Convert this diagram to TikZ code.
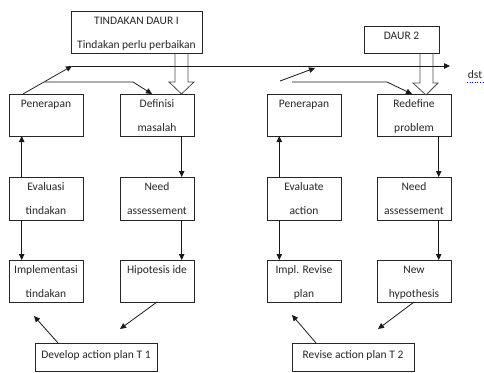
\documentclass[tikz,border=0pt]{standalone}
\usepackage{fontspec}
\setmainfont{Carlito}
\usetikzlibrary{arrows.meta,calc}
\begin{document}
\begin{tikzpicture}[x=1pt,y=-1pt,
  box/.style={draw=black!85, line width=0.8pt, minimum width=74pt, minimum height=42pt, inner sep=0pt, outer sep=0pt},
  txt/.style={anchor=base, inner sep=0pt, font=\fontsize{11.5}{13}\selectfont, text=black!85},
  arr/.style={draw=black!90, line width=0.8pt, -{Triangle[length=6pt,width=5.5pt]}},
  ln/.style={draw=black!90, line width=0.8pt},
  hollow/.style={draw=black!70, line width=0.8pt}]
\useasboundingbox (0,0) rectangle (484,372);

% ---------- Cycle 1 ----------
\node[box, minimum width=131pt, minimum height=41.6pt] (tin) at (136.5,32.5) {};
\node[txt] at ($(tin.north)+(0,13)$) {TINDAKAN DAUR I};
\node[txt] at ($(tin.north)+(0,36.6)$) {Tindakan perlu perbaikan};

\node[box] (pen1) at (46,115) {};
\node[txt] at ($(pen1.north)+(0,13)$) {Penerapan};
\node[box] (def1) at (157,115) {};
\node[txt] at ($(def1.north)+(0,13)$) {Definisi};
\node[txt] at ($(def1.north)+(0,37)$) {masalah};

\node[box, minimum height=43pt] (eva1) at (46,198.5) {};
\node[txt] at ($(eva1.north)+(0,13)$) {Evaluasi};
\node[txt] at ($(eva1.north)+(0,37)$) {tindakan};
\node[box, minimum height=43pt] (need1) at (157,198.5) {};
\node[txt] at ($(need1.north)+(0,13)$) {Need};
\node[txt] at ($(need1.north)+(0,37)$) {assessement};

\node[box] (imp1) at (46,281) {};
\node[txt] at ($(imp1.north)+(0,13)$) {Implementasi};
\node[txt] at ($(imp1.north)+(0,37)$) {tindakan};
\node[box] (hip1) at (157,281) {};
\node[txt] at ($(hip1.north)+(0,13)$) {Hipotesis ide};

\node[box, minimum width=122pt, minimum height=28pt] (dev1) at (96,357) {};
\node[txt] at ($(dev1.north)+(0,15.5)$) {Develop action plan T 1};

% ---------- Cycle 2 ----------
\node[box, minimum width=75pt, minimum height=26.6pt] (daur2) at (401.5,40) {};
\node[txt] at ($(daur2.north)+(0,12.7)$) {DAUR 2};

\node[box] (pen2) at (304,115) {};
\node[txt] at ($(pen2.north)+(0,13)$) {Penerapan};
\node[box] (red2) at (414,115) {};
\node[txt] at ($(red2.north)+(0,13)$) {Redefine};
\node[txt] at ($(red2.north)+(0,37)$) {problem};

\node[box, minimum height=43pt] (eva2) at (304,198.5) {};
\node[txt] at ($(eva2.north)+(0,13)$) {Evaluate};
\node[txt] at ($(eva2.north)+(0,37)$) {action};
\node[box, minimum height=43pt] (need2) at (414,198.5) {};
\node[txt] at ($(need2.north)+(0,13)$) {Need};
\node[txt] at ($(need2.north)+(0,37)$) {assessement};

\node[box] (imp2) at (304,281) {};
\node[txt] at ($(imp2.north)+(0,13)$) {Impl. Revise};
\node[txt] at ($(imp2.north)+(0,37)$) {plan};
\node[box] (hyp2) at (414,281) {};
\node[txt] at ($(hyp2.north)+(0,13)$) {New};
\node[txt] at ($(hyp2.north)+(0,37)$) {hypothesis};

\node[box, minimum width=122pt, minimum height=28pt] (rev2) at (353,357) {};
\node[txt] at ($(rev2.north)+(0,15.5)$) {Revise action plan T 2};

% dst label
\node[txt] (dst) at (475,78) {dst};
\draw[blue!70!black, line width=0.6pt, dotted] (467,82) -- (483,82);

% ---------- hollow arrows ----------
\draw[hollow] ($(tin.south west)+(104,0)$) -- ++(0,28.7) -- ++(-6,0) -- ($(def1.north west)+(61.5,0)$)
  -- ($(tin.south west)+(123,28.7)$) -- ++(-6,0) -- ($(tin.south west)+(117,0)$);
\draw[hollow] ($(daur2.south west)+(56,0)$) -- ++(0,29.7) -- ++(-7,0) -- ($(red2.north west)+(49,1)$)
  -- ($(daur2.south west)+(74,29.7)$) -- ++(-5,0) -- ($(daur2.south west)+(69,0)$);

% ---------- top connectors ----------
\coordinate (top1) at (72,66);
\coordinate (topend) at (450,66);
\coordinate (lowA) at (45,82);
\coordinate (lowB) at (133,82);
\coordinate (sl2a) at (280,81);
\coordinate (sl2b) at (315,68);
\coordinate (lowC) at (292,82);
\coordinate (lowD) at (387,82);

\draw[arr] ($(pen1.north west)+(14,0)$) -- (top1);
\draw[arr] (top1) -- (topend);
\draw[arr] (lowA) -- (lowB) -- ($(def1.north west)+(32,0)$);
\draw[arr] (sl2a) -- (sl2b);
\draw[arr] (lowC) -- (lowD) -- ($(red2.north west)+(35,0)$);

% ---------- vertical connectors ----------
\draw[arr] ($(eva1.north west)+(12.7,0)$) -- ($(pen1.south west)+(12.7,0)$);
\draw[arr] ($(eva1.south west)+(12.7,0)$) -- ($(imp1.north west)+(12.7,0)$);
\draw[arr] ($(def1.south east)+(-12.3,0)$) -- ($(need1.north east)+(-12.3,0)$);
\draw[arr] ($(need1.south east)+(-12.3,0)$) -- ($(hip1.north east)+(-12.3,0)$);

\draw[arr] ($(eva2.north west)+(12.3,0)$) -- ($(pen2.south west)+(12.3,0)$);
\draw[arr] ($(eva2.south west)+(12.3,0)$) -- ($(imp2.north west)+(12.3,0)$);
\draw[arr] ($(red2.south east)+(-12.3,0)$) -- ($(need2.north east)+(-12.3,0)$);
\draw[arr] ($(need2.south east)+(-12.3,0)$) -- ($(hyp2.north east)+(-12.3,0)$);

% ---------- diagonal connectors ----------
\coordinate (d1a) at (120,329);
\coordinate (d1b) at (34,316);
\coordinate (d2a) at (378,329);
\coordinate (d2b) at (292,315);
\draw[arr] (hip1.south) -- (d1a);
\draw[arr] ($(dev1.north west)+(23,0)$) -- (d1b);
\draw[arr] (hyp2.south) -- (d2a);
\draw[arr] ($(rev2.north west)+(24,0)$) -- (d2b);
\end{tikzpicture}
\end{document}
